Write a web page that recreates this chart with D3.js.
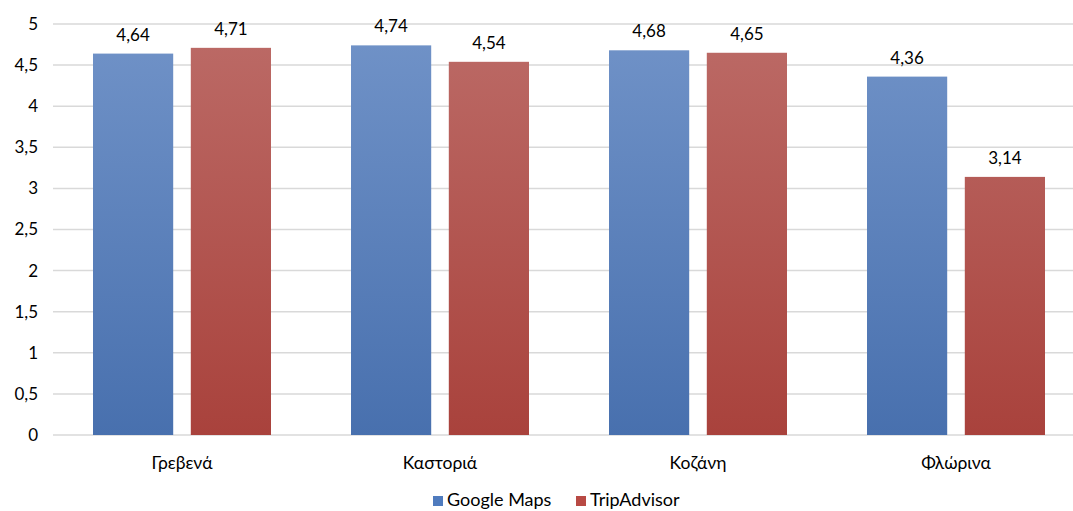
<!DOCTYPE html>
<html><head><meta charset="utf-8">
<script src="https://cdn.jsdelivr.net/npm/d3@7"></script>
<style>body{margin:0;background:#fff;}svg{display:block;}</style>
</head><body>
<svg id="c" width="1073" height="511"></svg>
<script>
const categories = ["Γρεβενά", "Καστοριά", "Κοζάνη", "Φλώρινα"];
const seriesNames = ["Google Maps", "TripAdvisor"];
const googleMaps = [4.64, 4.74, 4.68, 4.36];
const tripAdvisor = [4.71, 4.54, 4.65, 3.14];
const yTicks = [0, 0.5, 1, 1.5, 2, 2.5, 3, 3.5, 4, 4.5, 5];

const svg = d3.select("#c");
const font = "Lato, 'Open Sans', sans-serif";
const fmt = v => String(v).replace(".", ",");

const x0 = d3.scaleBand().domain(categories).range([53, 1085]).paddingInner(0).paddingOuter(0);
const x1 = d3.scaleBand().domain(seriesNames).range([40, 218]).paddingInner(0.18).paddingOuter(0);
const y = d3.scaleLinear().domain([0, 5]).range([435, 24]);

const defs = svg.append("defs");
const grads = [
  {id: "gBlue", top: "#7193c8", bot: "#4870ae"},
  {id: "gRed", top: "#bc6b67", bot: "#a9423c"}
];
grads.forEach(g => {
  const lg = defs.append("linearGradient").attr("id", g.id).attr("gradientUnits", "userSpaceOnUse")
    .attr("x1", 0).attr("x2", 0).attr("y1", y(5)).attr("y2", y(0));
  lg.append("stop").attr("offset", 0).attr("stop-color", g.top);
  lg.append("stop").attr("offset", 1).attr("stop-color", g.bot);
});

// gridlines
svg.append("g").selectAll("line").data(yTicks).join("line")
  .attr("x1", 53).attr("x2", 1073)
  .attr("y1", d => y(d)).attr("y2", d => y(d))
  .attr("stroke", "#d9d9d9").attr("stroke-width", 1.5);

// y axis labels
const yAxis = d3.axisLeft(y).tickValues(yTicks).tickFormat(fmt).tickSize(0).tickPadding(0);
const ya = svg.append("g").attr("transform", "translate(38,0)").call(yAxis);
ya.select(".domain").remove();
ya.selectAll("text").attr("font-family", font).attr("font-size", 17).attr("fill", "#000");

const data = categories.map((c, i) => ({cat: c, vals: [
  {s: seriesNames[0], v: googleMaps[i], fill: "url(#gBlue)"},
  {s: seriesNames[1], v: tripAdvisor[i], fill: "url(#gRed)"}
]}));

const g = svg.append("g").selectAll("g").data(data).join("g")
  .attr("transform", d => `translate(${x0(d.cat)},0)`);
g.selectAll("rect").data(d => d.vals).join("rect")
  .attr("x", d => x1(d.s)).attr("width", x1.bandwidth())
  .attr("y", d => y(d.v)).attr("height", d => y(0) - y(d.v))
  .attr("fill", d => d.fill);
g.selectAll("text.val").data(d => d.vals).join("text").attr("class", "val")
  .attr("x", d => x1(d.s) + x1.bandwidth() / 2).attr("y", d => y(d.v) - 13)
  .attr("text-anchor", "middle").attr("font-family", font).attr("font-size", 17)
  .text(d => fmt(d.v));

// x axis labels
const xAxis = d3.axisBottom(x0).tickSize(0).tickPadding(0);
const xa = svg.append("g").attr("transform", "translate(0,459)").call(xAxis);
xa.select(".domain").remove();
xa.selectAll("text").attr("font-family", font).attr("font-size", 17.5).attr("fill", "#000").attr("dy", "0.35em").attr("y", 4);

// legend
const legend = svg.append("g");
const legItems = [
  {name: seriesNames[0], color: "#4f7bbe", x: 433},
  {name: seriesNames[1], color: "#b84a44", x: 576}
];
legItems.forEach(l => {
  legend.append("rect").attr("x", l.x).attr("y", 496).attr("width", 10).attr("height", 10).attr("fill", l.color);
  legend.append("text").attr("x", l.x + 14).attr("y", 506).attr("font-family", font).attr("font-size", 18).text(l.name);
});
</script>
</body></html>
